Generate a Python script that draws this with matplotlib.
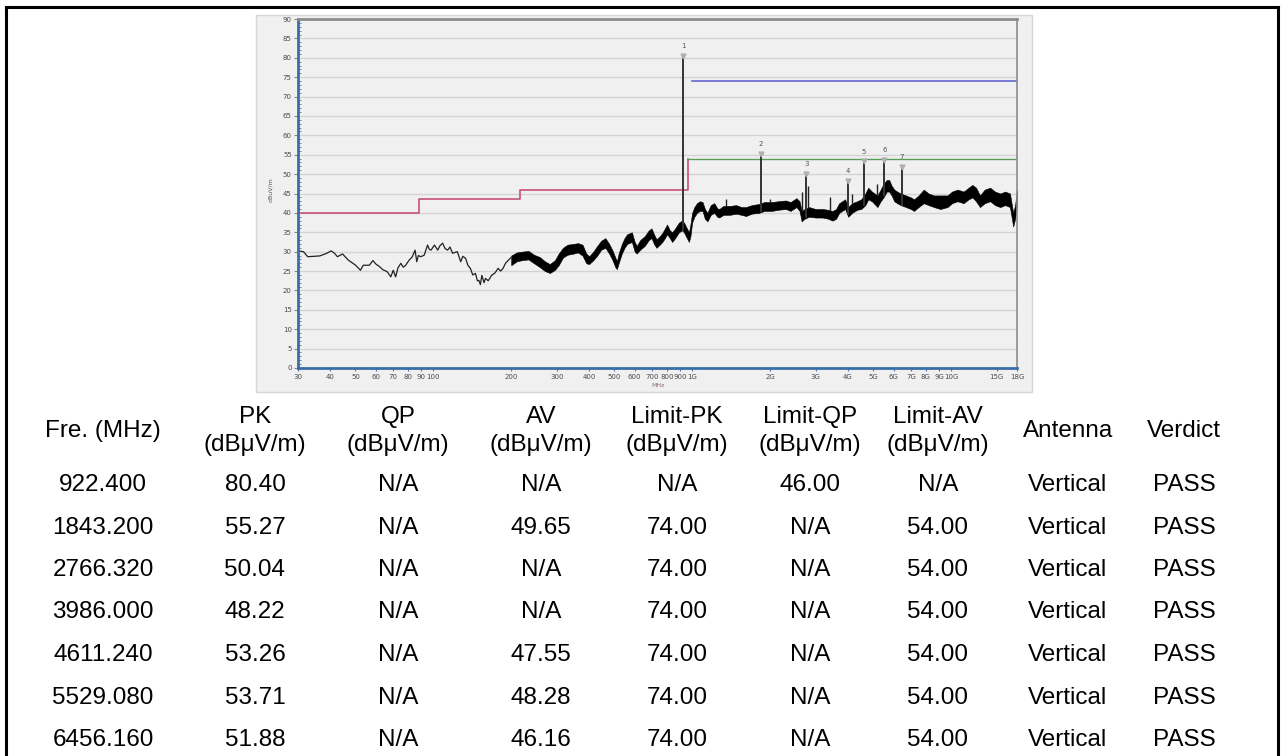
import numpy as np
import matplotlib
matplotlib.use("Agg")
from matplotlib import pyplot as plt
from matplotlib.patches import Rectangle
from matplotlib.lines import Line2D

W, H = 1285, 756

# ---- measured trace, 30-200 MHz (thin part) ----
trace_mhz = [30, 31.5, 32.7, 34.5, 36.4, 38.5, 40.3, 41.5, 42.6, 44.6,
             47.0, 50.1, 52.3, 53.6, 56.6, 58.4, 60.0, 61.8, 63.7, 66.4,
             68.5, 70.0, 71.5, 73.0, 74.9, 76.5, 78.2, 80.6, 83.0, 85.0,
             86.3, 87.5, 89.5, 92.2, 95.0, 96.5, 98.0, 101, 104, 106,
             108.6, 111, 113.6, 116, 118.7, 123.8, 127.6, 130, 133.2, 136,
             139, 142, 145.5, 148, 150, 152, 154, 157, 159, 163,
             168, 173, 178, 182, 186, 190, 195, 200]
trace_db = [30.2, 30.0, 28.7, 28.8, 28.9, 29.5, 30.2, 29.6, 28.7, 29.4,
            27.8, 26.5, 25.2, 26.5, 26.5, 27.7, 26.8, 26.2, 25.4, 24.8,
            23.5, 25.2, 23.5, 25.8, 27.0, 26.0, 26.5, 27.8, 28.7, 30.4,
            27.4, 29.0, 28.7, 29.1, 31.7, 30.6, 30.4, 31.7, 30.4, 31.5,
            32.2, 30.8, 30.4, 31.2, 29.6, 30.0, 27.4, 28.8, 28.3, 26.5,
            25.7, 24.0, 24.4, 22.5, 22.6, 21.5, 23.9, 22.0, 23.1, 22.5,
            23.9, 24.5, 25.7, 25.0, 25.7, 27.0, 27.8, 28.5]

# ---- noisy part, 200 MHz - 18 GHz, as a min/max band ----
band_mhz = [200, 210, 220, 233, 245, 258, 270, 282, 295, 305,
            317, 330, 348, 362, 377, 390, 400, 415, 430, 445,
            462, 478, 491, 505, 512, 520, 535, 548, 561, 585,
            600, 611, 630, 656, 680, 697, 712, 728, 750, 767,
            785, 800, 820, 837, 860, 889, 914, 930, 946, 972,
            985, 1000, 1020, 1044, 1070, 1097, 1120, 1146, 1180, 1218,
            1250, 1273, 1320, 1400, 1480, 1550, 1615, 1700, 1813, 1900,
            2030, 2150, 2300, 2400, 2530, 2600, 2650, 2720, 2830, 3000,
            3190, 3350, 3490, 3600, 3700, 3900, 4010, 4150, 4340, 4500,
            4670, 4790, 4950, 5200, 5350, 5490, 5650, 5770, 5900, 6040,
            6200, 6400, 6700, 7000, 7200, 7500, 7850, 8200, 8600, 9100,
            9700, 10100, 10600, 11200, 11700, 12100, 12500, 12950, 13500, 14180,
            14800, 15500, 16200, 16900, 17400, 17700, 18000]
band_lo = [26.5, 27.5, 27.8, 28.0, 27.0, 26.0, 25.0, 24.5, 25.3, 26.5,
           28.5, 29.2, 29.5, 29.8, 29.0, 27.0, 26.8, 27.8, 29.0, 30.5,
           31.0, 29.5, 28.0, 26.0, 25.5, 27.0, 29.5, 31.0, 32.0, 32.5,
           30.0, 29.5, 30.5, 31.5, 33.0, 33.5, 32.0, 31.0, 31.8, 32.5,
           33.5, 34.5, 33.5, 32.5, 33.5, 35.0, 35.5, 35.0, 34.0, 32.5,
           34.0, 37.5, 39.0, 40.0, 40.5, 40.5, 38.5, 37.8, 39.5, 40.0,
           39.0, 38.8, 39.5, 39.5, 39.8, 39.5, 39.2, 39.8, 40.0, 40.5,
           40.5, 40.8, 41.0, 40.5, 41.5, 40.5, 37.8, 38.5, 39.0, 38.8,
           38.8, 38.5, 38.0, 38.5, 40.0, 41.0, 39.0, 40.0, 40.8, 41.0,
           42.0, 43.5, 43.0, 41.5, 43.0, 44.0, 45.5, 45.5, 44.5, 43.0,
           42.5, 42.0, 41.5, 41.0, 40.5, 41.5, 42.5, 42.0, 41.5, 41.0,
           41.5, 42.5, 43.0, 42.5, 43.5, 44.0, 43.0, 41.5, 42.5, 43.0,
           42.0, 41.5, 42.0, 41.5, 36.5, 38.5, 42.0]
band_hi = [29.0, 29.8, 30.0, 30.2, 29.2, 28.6, 27.5, 26.8, 27.8, 29.5,
           31.0, 31.8, 32.0, 32.2, 31.8, 29.5, 28.8, 30.0, 31.5, 32.8,
           33.5, 32.0, 30.5, 28.5, 27.5, 29.5, 32.0, 33.5, 34.5, 35.0,
           32.5, 31.5, 33.0, 34.0, 35.5, 36.0, 34.5, 33.2, 34.0, 34.8,
           36.0, 37.0, 35.5, 35.0, 36.0, 37.5, 38.0, 37.5, 36.5, 35.0,
           37.0, 40.0, 41.5, 42.5, 43.0, 42.8, 41.0, 40.0, 42.0, 42.5,
           41.2, 41.0, 41.8, 41.8, 42.0, 41.5, 41.5, 42.0, 42.3, 42.8,
           42.8, 43.0, 43.2, 42.8, 43.8, 43.0, 40.5, 41.0, 41.5, 41.0,
           41.0, 40.8, 40.5, 41.0, 42.5, 43.5, 41.5, 42.5, 43.0, 43.5,
           45.0, 46.5, 45.5, 44.5, 46.0, 47.5, 48.5, 48.5, 47.0, 46.0,
           45.5, 45.0, 44.5, 44.0, 43.5, 44.5, 46.0, 45.0, 44.5, 44.5,
           44.5, 45.5, 46.0, 45.5, 46.5, 47.2, 46.5, 44.5, 46.0, 46.5,
           45.5, 45.0, 45.5, 45.0, 40.0, 42.0, 46.0]

# small spurs on top of the noise floor
spur_mhz = [1350, 2000, 2650, 2800, 3400, 4150, 5200]
spur_db = [43.6, 43.5, 45.5, 47.0, 44.0, 45.0, 47.5]

# limit lines
qp_limit_mhz = [30, 88, 88, 216, 216, 960, 960]
qp_limit_db = [40, 40, 43.5, 43.5, 46, 46, 54]
av_limit_mhz = [960, 18000]
av_limit_db = [54, 54]
pk_limit_mhz = [1000, 18000]
pk_limit_db = [74, 74]

# ---- result table ----
freq_mhz = [922.400, 1843.200, 2766.320, 3986.000, 4611.240, 5529.080, 6456.160]
pk = [80.40, 55.27, 50.04, 48.22, 53.26, 53.71, 51.88]
qp = [None, None, None, None, None, None, None]
av = [None, 49.65, None, None, 47.55, 48.28, 46.16]
limit_pk = [None, 74.00, 74.00, 74.00, 74.00, 74.00, 74.00]
limit_qp = [46.00, None, None, None, None, None, None]
limit_av = [None, 54.00, 54.00, 54.00, 54.00, 54.00, 54.00]
antenna = ["Vertical"] * 7
verdict = ["PASS"] * 7

headers = ["Fre. (MHz)", "PK\n(dBμV/m)", "QP\n(dBμV/m)", "AV\n(dBμV/m)",
           "Limit-PK\n(dBμV/m)", "Limit-QP\n(dBμV/m)", "Limit-AV\n(dBμV/m)",
           "Antenna", "Verdict"]

x_ticks = [30, 40, 50, 60, 70, 80, 90, 100, 200, 300, 400, 500, 600, 700, 800, 900,
           1000, 2000, 3000, 4000, 5000, 6000, 7000, 8000, 9000, 10000, 15000, 18000]
x_tick_labels = ["30", "40", "50", "60", "70", "80", "90", "100", "200", "300", "400",
                 "500", "600", "700", "800", "900", "1G", "2G", "3G", "4G", "5G", "6G",
                 "7G", "8G", "9G", "10G", "15G", "18G"]


def fx(px):
    return px / W


def fy(py):
    return 1 - py / H


fig = plt.figure(figsize=(W / 100, H / 100), dpi=100)

# outer frame (bottom runs off the page)
for xs, ys in [([6, 6], [7, 760]), ([1278, 1278], [7, 760]), ([6, 1278], [7, 7])]:
    fig.add_artist(Line2D([fx(x) for x in xs], [fy(y) for y in ys], color="black", lw=2.2))

# screenshot panel behind the chart
fig.add_artist(Rectangle((fx(256), fy(392)), fx(1032) - fx(256), fy(15) - fy(392),
                         facecolor="#f0f0f0", edgecolor="#d6d6d6", lw=1, zorder=0))

ax = fig.add_axes([fx(298), fy(368), fx(1017) - fx(298), fy(19) - fy(368)])
ax.set_facecolor("#f0f0f0")
ax.set_xscale("log")
ax.set_xlim(30, 18000)
ax.set_ylim(0, 90)

ax.set_yticks(range(0, 91, 5))
ax.set_yticks(range(0, 91, 1), minor=True)
ax.grid(axis="y", which="major", color="#d4d4d4", lw=1)
ax.set_axisbelow(True)
ax.set_xticks(x_ticks)
ax.set_xticklabels(x_tick_labels)
ax.xaxis.set_minor_locator(matplotlib.ticker.NullLocator())
ax.tick_params(axis="both", labelsize=5, labelcolor="#4a4a4a", pad=1.5)
ax.tick_params(axis="x", length=2.5, color="#4a7ab0", width=0.8)
ax.tick_params(axis="y", which="major", length=3, color="#888888", width=0.8, direction="out")
ax.tick_params(axis="y", which="minor", length=2, color="#4a7ab0", width=0.6, direction="in")

for side, col, lw in [("left", "#3a6ea5", 2), ("bottom", "#3a6ea5", 2),
                      ("top", "#8c8c8c", 2), ("right", "#8c8c8c", 1.2)]:
    ax.spines[side].set_color(col)
    ax.spines[side].set_linewidth(lw)

# limits
ax.plot(qp_limit_mhz, qp_limit_db, color="#c8507a", lw=1.2)
ax.plot(av_limit_mhz, av_limit_db, color="#58a058", lw=1.0)
ax.plot(pk_limit_mhz, pk_limit_db, color="#6464d4", lw=1.2)

# spectrum trace
ax.plot(trace_mhz, trace_db, color="#222222", lw=0.9)
ax.fill_between(band_mhz, band_lo, band_hi, color="black", lw=0.4, edgecolor="black")

log_band = np.log10(band_mhz)
spur_base = np.interp(np.log10(spur_mhz), log_band, band_hi)
ax.vlines(spur_mhz, spur_base, spur_db, color="#222222", lw=1.0)

peak_base = np.interp(np.log10(freq_mhz), log_band, band_lo)
ax.vlines(freq_mhz, peak_base, pk, color="#333333", lw=1.4)
ax.plot(freq_mhz, pk, ls="none", marker="v", ms=3.5, color="#b0b0b0")
for i, (f, v) in enumerate(zip(freq_mhz, pk)):
    ax.annotate(str(i + 1), (f, v), xytext=(0, 5), textcoords="offset points",
                ha="center", va="bottom", fontsize=5, color="#555555")

fig.text(fx(271), fy(190), "dBuV/m", rotation=90, fontsize=4.5, color="#555555",
         ha="center", va="center")
fig.text(fx(658), fy(385), "MHz", fontsize=4.5, color="#8a6a6a", ha="center", va="center")

# ---- table ----
col_x = [103, 255, 398, 541, 677, 810, 938, 1068, 1184]
row_y = [485, 527.5, 570, 612.5, 655, 697.5, 740]
font = dict(family="Liberation Sans", fontsize=17.5, color="black", ha="center", va="center")

for x, h in zip(col_x, headers):
    fig.text(fx(x), fy(431), h, linespacing=1.4, **font)


def fmt(v):
    return "N/A" if v is None else f"{v:.2f}"


for r in range(len(freq_mhz)):
    cells = [f"{freq_mhz[r]:.3f}", fmt(pk[r]), fmt(qp[r]), fmt(av[r]), fmt(limit_pk[r]),
             fmt(limit_qp[r]), fmt(limit_av[r]), antenna[r], verdict[r]]
    for x, c in zip(col_x, cells):
        fig.text(fx(x), fy(row_y[r]), c, **font)

fig.savefig("out.png", dpi=100)
